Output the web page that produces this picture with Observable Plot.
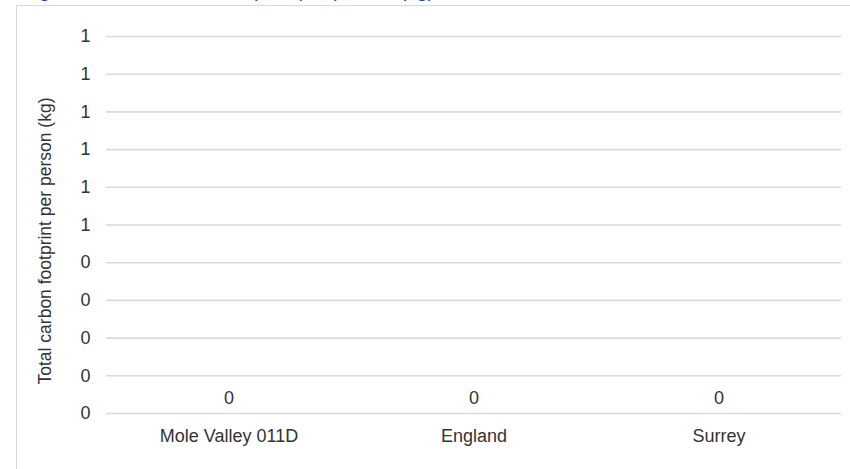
<!DOCTYPE html>
<html>
<head>
<meta charset="utf-8">
<script src="https://cdn.jsdelivr.net/npm/d3@7"></script>
<script src="https://cdn.jsdelivr.net/npm/@observablehq/plot@0.6"></script>
<style>
  html, body { margin: 0; padding: 0; background: #fff; overflow: hidden; }
  #wrap { position: relative; width: 850px; height: 469px; overflow: hidden; font-family: "Liberation Sans", Arial, sans-serif; }
  #title { position: absolute; left: 22px; top: -21px; font-size: 20px; line-height: 23px; color: #1a3fd1; white-space: nowrap; }
  #box { position: absolute; left: 16px; top: 5px; width: 900px; height: 600px; border: 1px solid #d9d9d9; box-sizing: border-box; }
  #chart { position: absolute; left: 0; top: 0; }
</style>
</head>
<body>
<div id="wrap">
  <div id="title">Figure 1: Total carbon footprint per person (kg), 2019</div>
  <div id="box"></div>
  <div id="chart"></div>
</div>
<script>
const categories = ["Mole Valley 011D", "England", "Surrey"];
const values = [0, 0, 0];
const valueLabels = ["0", "0", "0"];
const yTicks = [0, 0.1, 0.2, 0.3, 0.4, 0.5, 0.6, 0.7, 0.8, 0.9, 1.0];
const yTickLabels = ["0", "0", "0", "0", "0", "1", "1", "1", "1", "1", "1"];
const yTitle = "Total carbon footprint per person (kg)";

const data = categories.map((c, i) => ({category: c, value: values[i], label: valueLabels[i]}));

const plot = Plot.plot({
  width: 850,
  height: 469,
  marginLeft: 106,
  marginRight: 9,
  marginTop: 36,
  marginBottom: 56,
  style: {fontFamily: "'Liberation Sans', Arial, sans-serif", fontSize: "18px", color: "#333", background: "transparent"},
  x: {domain: categories, paddingInner: 0.4, paddingOuter: 0.2},
  y: {domain: [0, 1]},
  marks: [
    Plot.ruleY(yTicks, {stroke: "#d9d9d9", strokeWidth: 1.6}),
    Plot.axisY({
      ticks: yTicks,
      tickSize: 0,
      tickPadding: 16,
      tickFormat: (d, i) => yTickLabels[i],
      label: null,
      fill: "#333"
    }),
    Plot.text([yTitle], {
      frameAnchor: "left",
      text: d => d,
      rotate: -90,
      textAnchor: "middle",
      lineAnchor: "middle",
      dx: -61,
      dy: 16,
      fontSize: 17.5,
      fill: "#333"
    }),
    Plot.axisX({tickSize: 0, tickPadding: 16, label: null, fill: "#333"}),
    Plot.barY(data, {x: "category", y: "value", fill: "#4472c4"}),
    Plot.text(data, {x: "category", y: "value", text: "label", dy: -15, fill: "#333"})
  ]
});
document.getElementById("chart").appendChild(plot);
</script>
</body>
</html>
